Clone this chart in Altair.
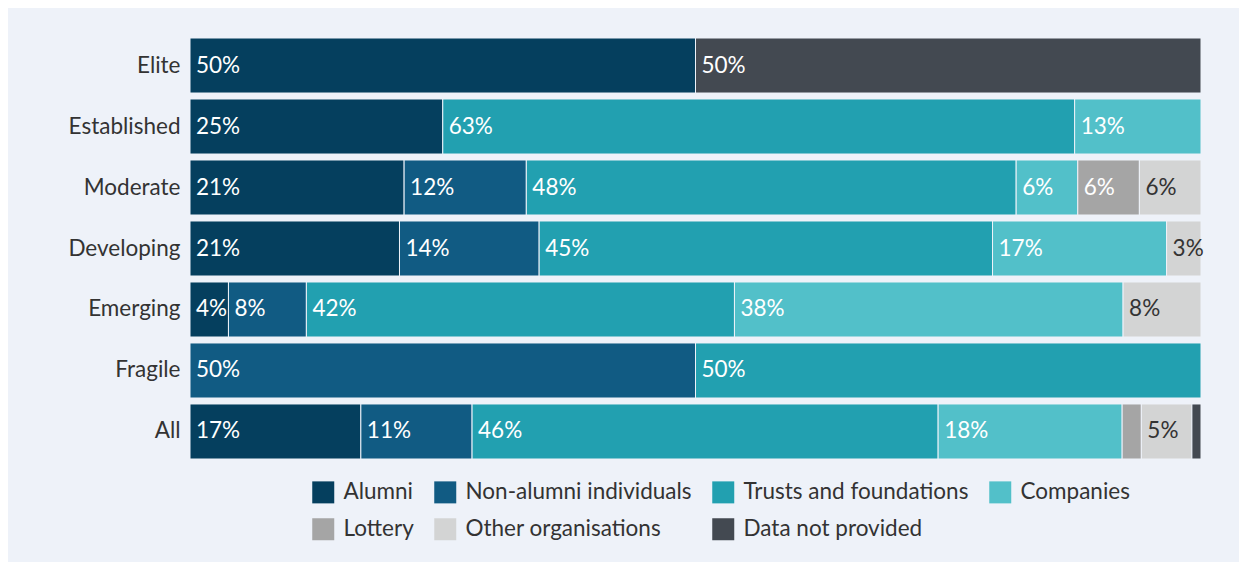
import altair as alt
import pandas as pd

groups = ["Elite", "Established", "Moderate", "Developing", "Emerging", "Fragile", "All"]
categories = ["Alumni", "Non-alumni individuals", "Trusts and foundations", "Companies",
              "Lottery", "Other organisations", "Data not provided"]
colors = ["#053f5e", "#115b83", "#22a0b0", "#52c0c9", "#a5a5a5", "#d3d4d4", "#434951"]

alumni = [50, 25, 21.2, 20.7, 3.8, 0, 16.9]
non_alumni = [0, 0, 12.1, 13.8, 7.7, 50, 11.0]
trusts = [0, 62.5, 48.5, 44.8, 42.3, 50, 46.1]
companies = [0, 12.5, 6.1, 17.2, 38.4, 0, 18.2]
lottery = [0, 0, 6.1, 0, 0, 0, 1.9]
other_orgs = [0, 0, 6.1, 3.4, 7.7, 0, 5.0]
not_provided = [50, 0, 0, 0, 0, 0, 0.9]

series = [alumni, non_alumni, trusts, companies, lottery, other_orgs, not_provided]
rows = []
for ci, (cat, vals) in enumerate(zip(categories, series)):
    for g, v in zip(groups, vals):
        if v > 0:
            rows.append({"group": g, "category": cat, "order": ci, "value": v})
df = pd.DataFrame(rows)

FONT = "Lato"
FS = 22.5

base = alt.Chart(df).transform_stack(
    stack="value", groupby=["group"], as_=["x0", "x1"], offset="normalize",
    sort=[alt.SortField("order", order="ascending")]
)

yenc = alt.Y("group:N", sort=groups,
             scale=alt.Scale(paddingInner=0.098, paddingOuter=0),
             axis=alt.Axis(title=None, domain=False, ticks=False, labelFontSize=FS,
                           labelPadding=10, labelColor="#333333", labelFont=FONT))

bars = base.mark_bar(stroke="#eef2f9", strokeWidth=1).encode(
    y=yenc,
    x=alt.X("x0:Q", scale=alt.Scale(domain=[0, 1]), axis=None),
    x2="x1:Q",
    color=alt.Color("category:N", scale=alt.Scale(domain=categories, range=colors),
                    legend=alt.Legend(title=None, orient="none", legendX=122, legendY=443,
                                      direction="horizontal", columns=4,
                                      symbolType="square", symbolSize=484,
                                      symbolStrokeWidth=0, labelFontSize=FS,
                                      labelFont=FONT, labelColor="#333333",
                                      labelOffset=9, columnPadding=20, rowPadding=14,
                                      padding=0, labelLimit=400)),
)

labels = base.transform_calculate(
    pct="datum.x1 - datum.x0"
).transform_filter("datum.pct >= 0.025").mark_text(
    align="left", baseline="middle", dx=6, fontSize=FS, font=FONT
).encode(
    y=alt.Y("group:N", sort=groups),
    x=alt.X("x0:Q"),
    text=alt.Text("pct:Q", format=".0%"),
    color=alt.condition(alt.datum.category == "Other organisations",
                        alt.value("#333333"), alt.value("#ffffff")),
)

chart = alt.layer(bars, labels).properties(
    width=1011, height=421, background="#eef2f9",
    padding={"left": 182, "top": 30, "right": 38, "bottom": 103},
    autosize=alt.AutoSizeParams(type="none"),
).configure_view(stroke=None)

chart.save("out.html", embed_options={"renderer": "svg", "actions": False})
